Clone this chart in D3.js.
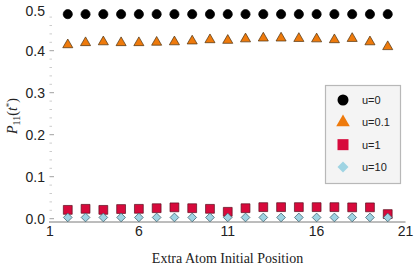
<!DOCTYPE html>
<html><head><meta charset="utf-8">
<script src="https://cdn.jsdelivr.net/npm/d3@7"></script>
<style>
html,body{margin:0;padding:0;background:#fff;}
svg{display:block;}
</style>
</head><body>
<svg id="chart" width="415" height="268"></svg>
<script>
const positions = [2,3,4,5,6,7,8,9,10,11,12,13,14,15,16,17,18,19,20];
const u0   = [0.487,0.487,0.487,0.487,0.487,0.487,0.487,0.487,0.487,0.487,0.487,0.487,0.487,0.487,0.487,0.487,0.487,0.487,0.487];
const u01  = [0.414,0.419,0.421,0.419,0.419,0.420,0.421,0.423,0.426,0.4245,0.428,0.430,0.430,0.429,0.428,0.426,0.429,0.421,0.4095];
const u1   = [0.021,0.0235,0.021,0.023,0.0235,0.025,0.027,0.025,0.0235,0.0164,0.025,0.0275,0.0275,0.0275,0.0275,0.0275,0.027,0.027,0.011];
const u10  = [0.003,0.003,0.003,0.003,0.003,0.003,0.003,0.003,0.003,0.003,0.003,0.003,0.003,0.003,0.003,0.003,0.003,0.003,0.003];
const seriesNames = ["u=0","u=0.1","u=1","u=10"];
const xTicks = [1,6,11,16,21];
const yTicks = [0.0,0.1,0.2,0.3,0.4,0.5];

const svg = d3.select("#chart");
const x = d3.scaleLinear().domain([1,21]).range([50,405.5]);
const y = d3.scaleLinear().domain([0,0.5]).range([218.7,8.7]);

// x axis line
svg.append("line").attr("x1",49).attr("x2",405.5).attr("y1",222).attr("y2",222)
  .attr("stroke","#7a7a7a").attr("stroke-width",1);

// x tick labels
svg.append("g").selectAll("text").data(xTicks).join("text")
  .attr("x",d=>x(d)).attr("y",236)
  .attr("text-anchor","middle")
  .attr("font-family","'Liberation Sans', Arial, sans-serif")
  .attr("font-size",14).attr("fill","#222")
  .text(d=>d);

// y ticks (major + minor)
const minor = d3.range(0,0.5001,0.02).filter(v=>Math.abs(v*10-Math.round(v*10))>1e-6);
svg.append("g").selectAll("line").data(minor).join("line")
  .attr("x1",49.5).attr("x2",52).attr("y1",d=>y(d)).attr("y2",d=>y(d))
  .attr("stroke","#aaa").attr("stroke-width",0.6);
svg.append("g").selectAll("line").data(yTicks.filter(d=>d<0.45)).join("line")
  .attr("x1",49.5).attr("x2",54).attr("y1",d=>y(d)).attr("y2",d=>y(d))
  .attr("stroke","#888").attr("stroke-width",0.8);
svg.append("g").selectAll("text").data(yTicks).join("text")
  .attr("x",45).attr("y",d=>y(d)+(d===0.5?7:5.5))
  .attr("text-anchor","end")
  .attr("font-family","'Liberation Sans', Arial, sans-serif")
  .attr("font-size",14).attr("fill","#222")
  .text(d=>d.toFixed(1));

// axis labels
svg.append("text").attr("x",227.5).attr("y",263)
  .attr("text-anchor","middle")
  .attr("font-family","'Liberation Serif', 'Times New Roman', serif")
  .attr("font-size",14).attr("fill","#222")
  .text("Extra Atom Initial Position");

const yl = svg.append("text")
  .attr("transform","translate(17,116) rotate(-90)")
  .attr("text-anchor","middle")
  .attr("font-family","'Liberation Serif', 'Times New Roman', serif")
  .attr("font-size",14).attr("fill","#222");
yl.append("tspan").attr("font-style","italic").text("P");
yl.append("tspan").attr("font-size",10).attr("dy",3).text("11");
yl.append("tspan").attr("dy",-3).text("(");
yl.append("tspan").attr("font-style","italic").text("t");
yl.append("tspan").attr("font-size",9).attr("dy",-5).text("*");
yl.append("tspan").attr("dy",5).text(")");

// marker definitions
const styles = [
  {type:d3.symbolCircle, size:66, lsize:95, fill:"#000", stroke:"#000", rot:0},
  {type:d3.symbolTriangle, size:44, lsize:80, fill:"#ee7a0c", stroke:"#4a3010", rot:0},
  {type:d3.symbolSquare, size:78, lsize:121, fill:"#d70a3c", stroke:"#5a1020", rot:0},
  {type:d3.symbolSquare, size:38, lsize:60, fill:"#9fd4e3", stroke:"#3d5a66", rot:45}
];
const allData = [u0,u01,u1,u10];

// draw from bottom series up so top-most matches reference
[2,3,1,0].forEach(si=>{
  const st = styles[si];
  const sym = d3.symbol().type(st.type).size(st.size);
  svg.append("g").selectAll("path").data(positions.map((p,i)=>({p,v:allData[si][i]}))).join("path")
    .attr("d",sym)
    .attr("transform",d=>`translate(${x(d.p)},${y(d.v)}) rotate(${st.rot})`)
    .attr("fill",st.fill).attr("stroke",st.stroke).attr("stroke-width",0.7);
});

// legend
const lg = svg.append("g");
lg.append("rect").attr("x",325.5).attr("y",85.5).attr("width",75).attr("height",98)
  .attr("fill","#f4f4f4").attr("stroke","#b8b8b8").attr("stroke-width",1.2);
const ly = d3.scalePoint().domain(seriesNames).range([100,167]);
seriesNames.forEach((n,i)=>{
  const st = styles[i];
  lg.append("path").attr("d",d3.symbol().type(st.type).size(st.lsize))
    .attr("transform",`translate(343,${ly(n)}) rotate(${st.rot})`)
    .attr("fill",st.fill);
  lg.append("text").attr("x",362).attr("y",ly(n)+4)
    .attr("font-family","'Liberation Sans', Arial, sans-serif")
    .attr("font-size",11).attr("fill","#222").text(n);
});
</script>
</body></html>
